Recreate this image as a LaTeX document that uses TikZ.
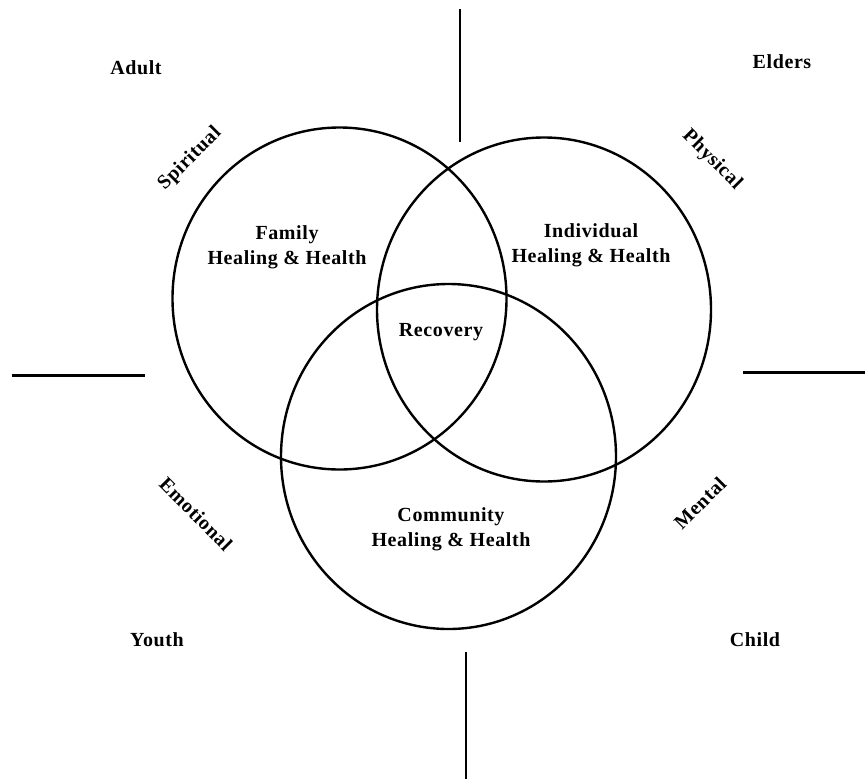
\documentclass[tikz,border=0pt]{standalone}
\usepackage{fontspec}
\setmainfont{Liberation Serif}[LetterSpace=3]
\usetikzlibrary{calc, positioning}

\begin{document}
\begin{tikzpicture}[x=1pt, y=-1pt, line width=2.4pt,
  lbl/.style={font=\bfseries\fontsize{20}{25}\selectfont, align=center, inner sep=0pt}]
\useasboundingbox (0,0) rectangle (865,779);
% circle centres
\coordinate (F) at (339.5,298.5);
\coordinate (I) at (544,309.5);
\coordinate (C) at (448.5,456.5);
\draw (F) ellipse [x radius=167, y radius=171];
\draw (I) ellipse [x radius=167, y radius=172];
\draw (C) ellipse [x radius=167.5, y radius=172.5];
% quadrant lines
\coordinate (N1) at (460,9);   \coordinate (N2) at (460,141.5);
\coordinate (S1) at (466,652); \coordinate (S2) at (466,779);
\coordinate (W1) at (12,375.5); \coordinate (W2) at (144.5,375.5);
\coordinate (E1) at (743,372.5); \coordinate (E2) at (865,372.5);
\draw (N1)--(N2);
\draw (S1)--(S2);
\draw (W1)--(W2);
\draw (E1)--(E2);
% ages
\node[lbl] (adult) at (136,68) {Adult};
\node[lbl] (elders) at (782,62) {Elders};
\node[lbl] (youth) at (157,640) {Youth};
\node[lbl] (child) at (755,640) {Child};
% aspects
\node[lbl, rotate=45] (spirit) at (190,159) {Spiritual};
\node[lbl, rotate=-45] (phys) at (712,160) {Physical};
\node[lbl, rotate=-45] (emo) at (196,514) {Emotional};
\node[lbl, rotate=45] (mental) at (700,503) {Mental};
% circle labels
\node[lbl] (family) at (287,247) {Family\\Healing \& Health};
\node[lbl] (indiv) at (591,245.5) {Individual\\Healing \& Health};
\node[lbl] (recov) at (441,332) {Recovery};
\node[lbl] (commun) at (451,529.5) {Community\\Healing \& Health};
\end{tikzpicture}
\end{document}
